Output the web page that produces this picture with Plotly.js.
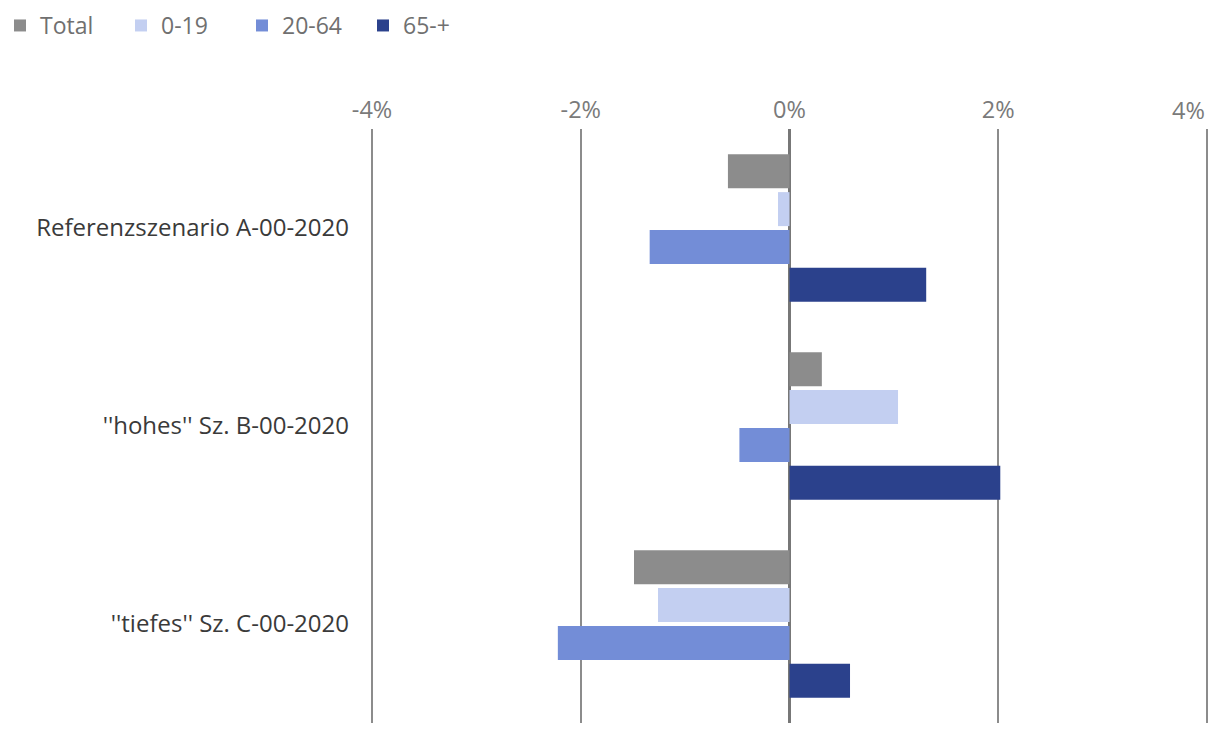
<!DOCTYPE html>
<html>
<head>
<meta charset="utf-8">
<script src="https://cdn.plot.ly/plotly-3.0.1.min.js"></script>
<style>html,body{margin:0;padding:0;background:#fff;}#chart{width:1220px;height:730px;}</style>
</head>
<body>
<div id="chart"></div>
<script>
const categories = ["Referenzszenario A-00-2020", "''hohes'' Sz. B-00-2020", "''tiefes'' Sz. C-00-2020"];
const seriesNames = ["Total", "0-19", "20-64", "65-+"];
const total = [-0.0059, 0.0031, -0.0149];
const age0_19 = [-0.0011, 0.0104, -0.0126];
const age20_64 = [-0.0134, -0.0048, -0.0222];
const age65 = [0.0131, 0.0202, 0.0058];
const xTicks = [-0.04, -0.02, 0, 0.02, 0.04];
const xTickLabels = ["-4%", "-2%", "0%", "2%", "4%"];

const colors = ["#8c8c8c", "#c3cff1", "#738dd7", "#2b418c"];
const values = [total, age0_19, age20_64, age65];

const traces = values.map((v, i) => ({
  type: "bar",
  orientation: "h",
  name: seriesNames[i],
  x: v,
  y: categories,
  marker: {color: colors[i], line: {width: 0}},
  hoverinfo: "x+name"
}));

// last tick label would overflow the page edge, so draw it right-aligned as an annotation
const lastIdx = xTicks.length - 1;
const shownText = xTickLabels.map((t, i) => i === lastIdx ? "" : t);

const layout = {
  width: 1220,
  height: 730,
  margin: {l: 370, r: 11, t: 129, b: 7},
  paper_bgcolor: "#ffffff",
  plot_bgcolor: "#ffffff",
  font: {family: "'Open Sans', 'Noto Sans', sans-serif", size: 23.5, color: "#333333"},
  barmode: "group",
  bargap: 0.237,
  bargroupgap: 0.1,
  showlegend: true,
  legend: {
    orientation: "h",
    xref: "container",
    yref: "container",
    x: 0, xanchor: "left",
    y: 0.9945, yanchor: "top",
    font: {size: 23, color: "#707070"},
    traceorder: "normal",
    itemwidth: 30,
    entrywidth: 76
  },
  xaxis: {
    side: "top",
    range: [-0.0402, 0.0402],
    tickvals: xTicks,
    ticktext: shownText,
    showgrid: true,
    gridcolor: "#8c8c8c",
    gridwidth: 2,
    zeroline: true,
    zerolinecolor: "#777777",
    zerolinewidth: 2.5,
    showline: false,
    ticks: "",
    ticklabelstandoff: 5,
    tickfont: {size: 23.5, color: "#7a7a7a"},
    fixedrange: true
  },
  yaxis: {
    autorange: "reversed",
    showgrid: false,
    zeroline: false,
    showline: false,
    ticks: "",
    ticklabelstandoff: 20,
    tickfont: {size: 24, color: "#3a3a3a"},
    fixedrange: true
  },
  annotations: [{
    x: xTicks[lastIdx], xref: "x",
    y: 110, yref: "paper", ysizemode: "pixel",
    text: xTickLabels[lastIdx],
    showarrow: false,
    xanchor: "right",
    yanchor: "middle",
    font: {size: 23.5, color: "#7a7a7a"}
  }]
};
// place annotation in paper coords matching the tick label row
const plotH = layout.height - layout.margin.t - layout.margin.b;
layout.annotations[0].y = 1 + (layout.margin.t - 110) / plotH;
delete layout.annotations[0].ysizemode;

Plotly.newPlot("chart", traces, layout, {displayModeBar: false, staticPlot: true});
</script>
</body>
</html>
